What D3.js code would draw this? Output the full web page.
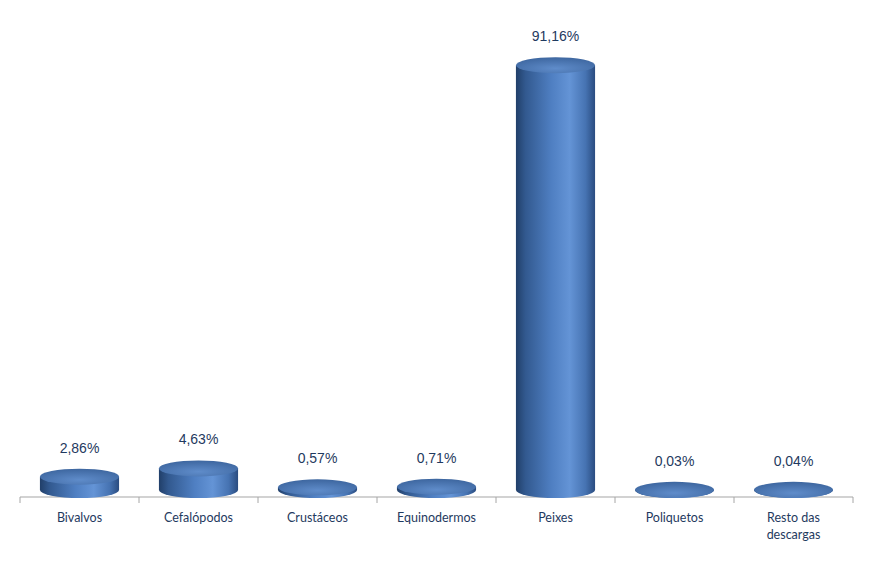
<!DOCTYPE html>
<html><head><meta charset="utf-8">
<script src="https://cdn.jsdelivr.net/npm/d3@7/dist/d3.min.js"></script>
<style>body{margin:0;background:#fff}</style>
</head><body>
<svg id="c" width="879" height="585"></svg>
<script>
const categories = ["Bivalvos","Cefalópodos","Crustáceos","Equinodermos","Peixes","Poliquetos","Resto das descargas"];
const values = [2.86, 4.63, 0.57, 0.71, 91.16, 0.03, 0.04];
const valueLabels = ["2,86%","4,63%","0,57%","0,71%","91,16%","0,03%","0,04%"];

const svg = d3.select("#c");
const x = d3.scaleBand().domain(categories).range([20, 853]).paddingInner(0).paddingOuter(0);
const y = d3.scaleLinear().domain([0, 100]).range([490, 24]);
const barW = x.bandwidth() * 0.665;
const rx = barW / 2, ry = 8;

const defs = svg.append("defs");
const sg = defs.append("linearGradient").attr("id","side").attr("x1","0").attr("x2","1").attr("y1","0").attr("y2","0");
[[0,"#213f69"],[0.12,"#32598f"],[0.45,"#4f7fc2"],[0.68,"#6494d6"],[0.88,"#4673b2"],[1,"#2a4c80"]]
  .forEach(([o,c]) => sg.append("stop").attr("offset",o).attr("stop-color",c));
const tg = defs.append("radialGradient").attr("id","top").attr("cx","0.5").attr("cy","0.7").attr("r","0.7");
[[0,"#5f8cca"],[1,"#3d669f"]].forEach(([o,c]) => tg.append("stop").attr("offset",o).attr("stop-color",c));

// axis
const axisY = 497;
svg.append("line").attr("x1",20).attr("x2",853).attr("y1",axisY).attr("y2",axisY)
  .attr("stroke","#a6a6a6").attr("stroke-width",1.2);
const bounds = categories.map(c => x(c)).concat([x.range()[1]]);
svg.selectAll("line.tick").data(bounds).enter().append("line")
  .attr("x1",d=>d).attr("x2",d=>d).attr("y1",axisY).attr("y2",axisY+6)
  .attr("stroke","#a6a6a6").attr("stroke-width",1);

// bars
const g = svg.append("g");
categories.forEach((c, i) => {
  const cx = x(c) + x.bandwidth()/2;
  const x0 = cx - rx, x1 = cx + rx;
  const yb = y(0), yt = y(values[i]);
  g.append("path")
    .attr("d", `M${x0},${yt} L${x0},${yb} A${rx},${ry} 0 0 0 ${x1},${yb} L${x1},${yt} Z`)
    .attr("fill","url(#side)");
  g.append("ellipse").attr("cx",cx).attr("cy",yt).attr("rx",rx).attr("ry",ry)
    .attr("fill","url(#top)");
  svg.append("text").attr("x",cx).attr("y",yt - ry - 16)
    .attr("text-anchor","middle").attr("font-family","Liberation Sans, Arial, sans-serif")
    .attr("font-size",14).attr("fill","#1f3a60").text(valueLabels[i]);
});

// category labels
categories.forEach(c => {
  const cx = x(c) + x.bandwidth()/2;
  const words = c === "Resto das descargas" ? ["Resto das","descargas"] : [c];
  words.forEach((w, j) => {
    svg.append("text").attr("x",cx).attr("y",522 + j*17)
      .attr("text-anchor","middle").attr("font-family","Lato, 'Open Sans', sans-serif")
      .attr("font-size",12.5).attr("fill","#1f3a60").text(w);
  });
});
</script>
</body></html>
